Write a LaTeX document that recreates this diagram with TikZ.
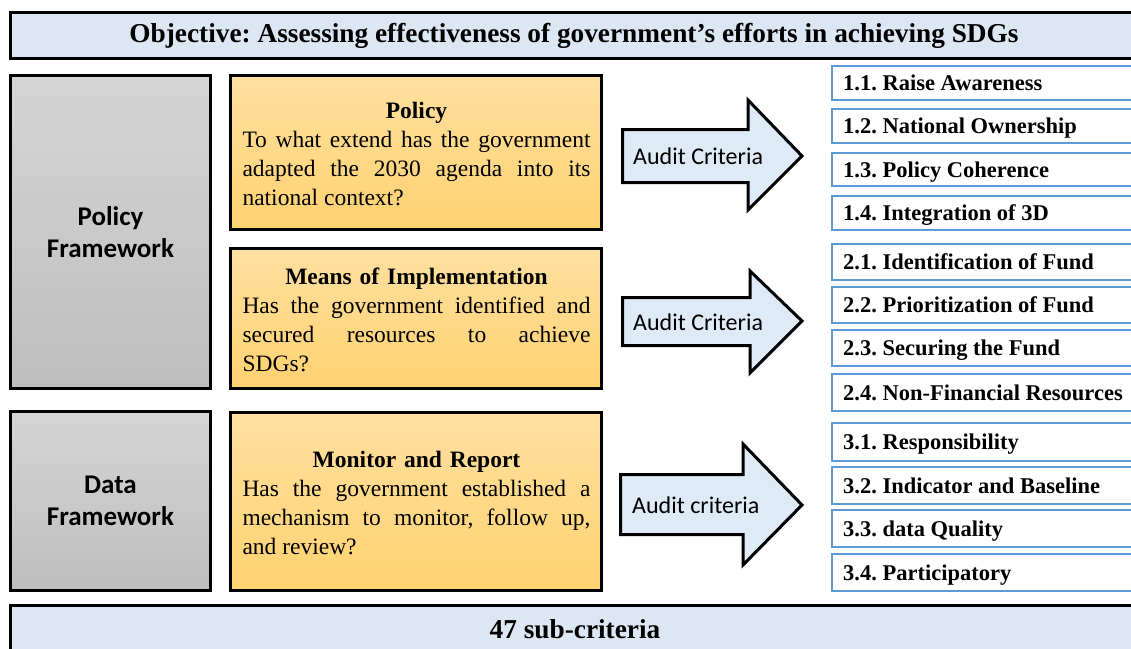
\documentclass[tikz,border=0pt]{standalone}
\usepackage{fontspec}
\setmainfont{Liberation Serif}
\newfontfamily\calfont{Carlito}
\usetikzlibrary{calc}
\frenchspacing
\definecolor{objblue}{HTML}{DDE7F3}
\definecolor{arrblue}{HTML}{DEEBF7}
\definecolor{graytop}{HTML}{D5D5D5}
\definecolor{graybot}{HTML}{BEBEBE}
\definecolor{orgtop}{HTML}{FFE0A0}
\definecolor{orgbot}{HTML}{FFD270}
\definecolor{rborder}{HTML}{5B9BD5}
\newcommand{\jline}[1]{\makebox[348pt][s]{\spaceskip=0pt\xspaceskip=0pt #1}}
\newcommand{\lline}[1]{\makebox[348pt][l]{\spaceskip=0pt\xspaceskip=0pt #1}}
\tikzset{
  darkbox/.style={draw=black, line width=3pt, rectangle, inner sep=0pt},
  bannerbox/.style={darkbox, fill=objblue, minimum width=1127pt, font=\bfseries\fontsize{27.3}{32}\selectfont},
  graybox/.style={darkbox, top color=graytop, bottom color=graybot, minimum width=200pt, align=center, font=\calfont\bfseries\fontsize{27}{32}\selectfont},
  orgbox/.style={darkbox, top color=orgtop, bottom color=orgbot, minimum width=371pt},
  orgtext/.style={inner sep=0pt, text width=348pt, align=center, font=\fontsize{23.5}{29}\selectfont},
  arrowshape/.style={draw=black, line width=3pt, fill=arrblue, line join=miter},
  arrtext/.style={anchor=west, inner sep=0pt, font=\calfont\fontsize{24}{28}\selectfont},
  rbox/.style={draw=rborder, line width=2pt, fill=white, minimum width=310pt, inner sep=0pt},
  rtext/.style={anchor=base west, inner sep=0pt, font=\bfseries\fontsize{22.5}{26}\selectfont},
}
\begin{document}
\begin{tikzpicture}[x=1pt,y=-1pt]
\useasboundingbox (0,0) rectangle (1131,648);
\clip (0,0) rectangle (1131,648);
\fill[white] (0,0) rectangle (1131,648);

% banners
\node[bannerbox, minimum height=46pt] (obj) at (574,35.5) {Objective: Assessing effectiveness of government’s efforts in achieving SDGs};
\node[bannerbox, minimum height=50pt] (sub) at (574,630) {};
\node[inner sep=0pt, font=\bfseries\fontsize{27.3}{32}\selectfont] (subt) at (575,629) {47 sub-criteria};

% gray framework boxes
\node[graybox, minimum height=313pt] (pf) at (110.5,232) {Policy\\Framework};
\node[graybox, minimum height=179pt] (df) at (110.5,501) {Data\\Framework};

% orange boxes
\node[orgbox, minimum height=154pt] (pol) at (416,152.5) {};
\node[orgtext] (polt) at (416.5,154) {\textbf{Policy}\\\jline{To what extend has the government}\\\jline{adapted the 2030 agenda into its}\\\lline{national context?}};
\node[orgbox, minimum height=140pt] (moi) at (416,318.5) {};
\node[orgtext] (moit) at (416.5,320) {\textbf{Means of Implementation}\\\jline{Has the government identified and}\\\jline{secured resources to achieve}\\\lline{SDGs?}};
\node[orgbox, minimum height=178pt] (mr) at (416,501.5) {};
\node[orgtext] (mrt) at (416.5,503) {\textbf{Monitor and Report}\\\jline{Has the government established a}\\\jline{mechanism to monitor, follow up,}\\\lline{and review?}};

% arrows
\draw[arrowshape] (622.5,129.5) -- (748,129.5) -- (748,100) -- (802,156) -- (748,210) -- (748,182.5) -- (622.5,182.5) -- cycle;
\node[arrtext] (a1) at (633,156) {Audit Criteria};
\draw[arrowshape] (622.5,297.5) -- (750,297.5) -- (750,271) -- (802,321) -- (750,373) -- (750,345.5) -- (622.5,345.5) -- cycle;
\node[arrtext] (a2) at (633,322) {Audit Criteria};
\draw[arrowshape] (620.5,474.5) -- (743,474.5) -- (743,444) -- (802,505) -- (743,565) -- (743,534.5) -- (620.5,534.5) -- cycle;
\node[arrtext] (a3) at (632,505) {Audit criteria};

% right criteria boxes
\foreach \n/\c/\h/\t in {
  r11/83/33.5/{1.1. Raise Awareness},
  r12/126/34/{1.2. National Ownership},
  r13/169.5/33/{1.3. Policy Coherence},
  r14/213/34/{1.4. Integration of 3D},
  r21/262/36/{2.1. Identification of Fund},
  r22/305/36/{2.2. Prioritization of Fund},
  r23/348/36/{2.3. Securing the Fund},
  r24/392.5/37/{2.4. Non-Financial Resources},
  r31/442/38/{3.1. Responsibility},
  r32/485.5/37/{3.2. Indicator and Baseline},
  r33/528.5/37/{3.3. data Quality},
  r34/572.5/37/{3.4. Participatory}}{
  \node[rbox, minimum height=\h pt] (\n) at (987,\c) {};
  \node[rtext] (\n t) at ($(\n.west)+(12,7.5)$) {\t};
}
\end{tikzpicture}
\end{document}
